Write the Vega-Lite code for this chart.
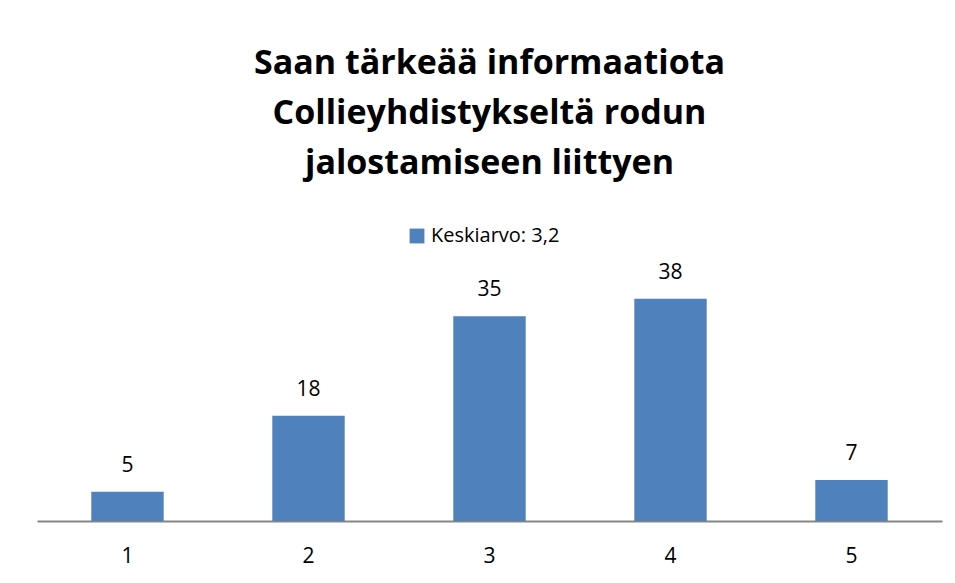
{
  "$schema": "https://vega.github.io/schema/vega-lite/v6.json",
  "width": 905,
  "height": 234,
  "autosize": "none",
  "padding": {"left": 37, "top": 287, "right": 13, "bottom": 62},
  "background": "white",
  "title": {
    "text": ["Saan tärkeää informaatiota", "Collieyhdistykseltä rodun", "jalostamiseen liittyen"],
    "font": "Open Sans",
    "fontSize": 34,
    "fontWeight": "bold",
    "lineHeight": 50,
    "color": "black",
    "anchor": "middle",
    "offset": 45
  },
  "data": {
    "values": [
      {"vastaus": "1", "n": 5, "sarja": "Keskiarvo: 3,2"},
      {"vastaus": "2", "n": 18, "sarja": "Keskiarvo: 3,2"},
      {"vastaus": "3", "n": 35, "sarja": "Keskiarvo: 3,2"},
      {"vastaus": "4", "n": 38, "sarja": "Keskiarvo: 3,2"},
      {"vastaus": "5", "n": 7, "sarja": "Keskiarvo: 3,2"}
    ]
  },
  "encoding": {
    "x": {
      "field": "vastaus",
      "type": "nominal",
      "sort": null,
      "scale": {"paddingInner": 0.6, "paddingOuter": 0.3},
      "axis": {
        "title": null,
        "labelAngle": 0,
        "labelFont": "Open Sans",
        "labelFontSize": 21,
        "labelColor": "black",
        "labelPadding": 24,
        "ticks": false,
        "domainColor": "#868686",
        "domainWidth": 2,
        "grid": false
      }
    },
    "y": {
      "field": "n",
      "type": "quantitative",
      "scale": {"domain": [0, 40]},
      "axis": null
    }
  },
  "layer": [
    {
      "mark": {"type": "bar", "color": "#4F81BD"},
      "encoding": {
        "color": {
          "field": "sarja",
          "type": "nominal",
          "scale": {"range": ["#4F81BD"]},
          "legend": {
            "title": null,
            "orient": "none",
            "legendX": 370,
            "legendY": -61,
            "direction": "horizontal",
            "symbolType": "square",
            "symbolSize": 220,
            "symbolStrokeWidth": 0,
            "labelFont": "Open Sans",
            "labelFontSize": 20,
            "labelColor": "black",
            "labelOffset": 4
          }
        }
      }
    },
    {
      "mark": {"type": "text", "dy": -26, "font": "Open Sans", "fontSize": 21, "color": "black"},
      "encoding": {"text": {"field": "n", "type": "quantitative"}}
    }
  ],
  "config": {"view": {"stroke": null}}
}
